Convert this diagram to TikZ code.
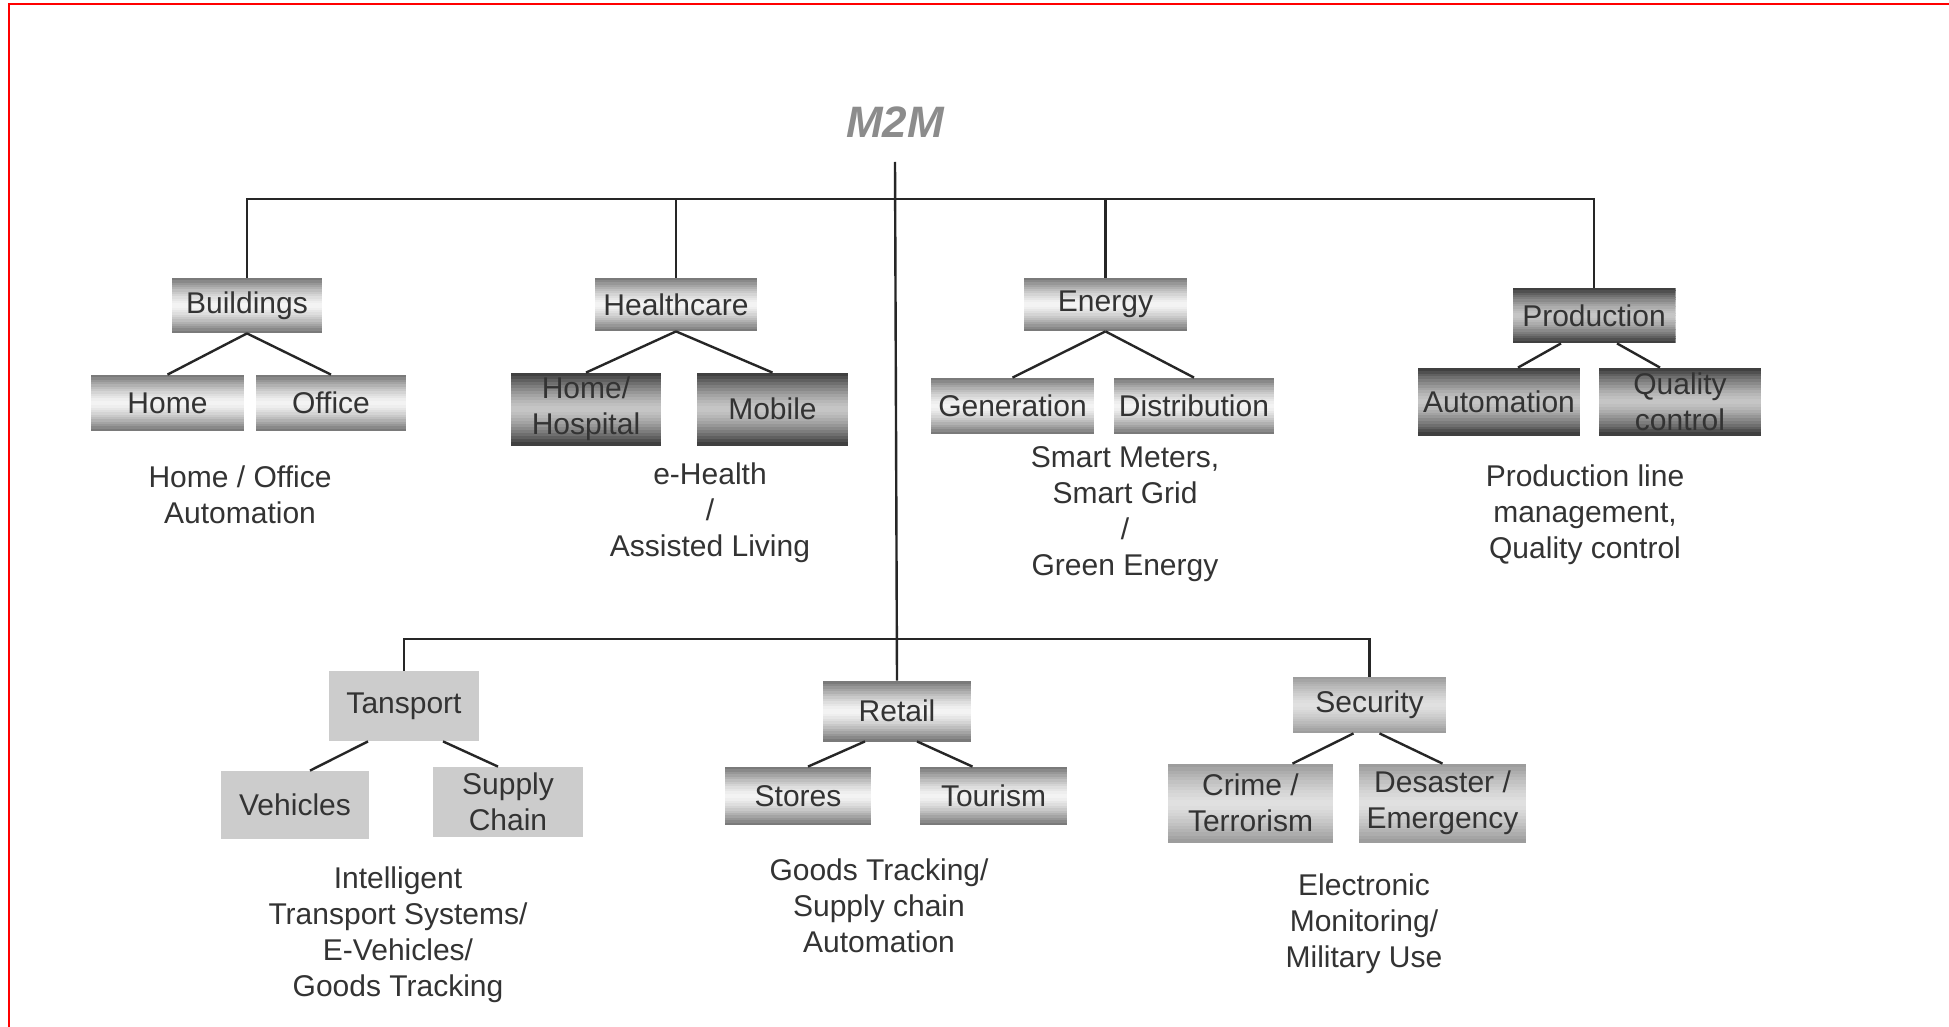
\documentclass[tikz,border=0pt]{standalone}
\usepackage{fontspec}
\setmainfont{Liberation Sans}
\usetikzlibrary{calc}
\colorlet{lightEdge}{black!55}
\colorlet{lightMid}{black!4}
\colorlet{darkEdge}{black!78}
\colorlet{darkMid}{black!22}
\colorlet{softEdge}{black!40}
\colorlet{softMid}{black!12}
\begin{document}
\begin{tikzpicture}[x=0.5pt,y=-0.5pt,
  box/.style={inner sep=1pt, align=center, text=black!80,
    font=\fontsize{15}{18}\selectfont},
  sz/.style 2 args={minimum width=#1, minimum height=#2},
  % banded fill: dark edges at top and bottom, light band in the middle
  metal/.style 2 args={box, path picture={
    \foreach \k in {0,...,23}{
      \pgfmathsetmacro\t{100*(abs(\k+0.5-12)/12)^1.4}
      \fill[#1!\t!#2]
        ($(path picture bounding box.north west)!{\k/24}!(path picture bounding box.south west)$)
        rectangle
        ($(path picture bounding box.north east)!{(\k+1.2)/24}!(path picture bounding box.south east)$);
    }}},
  lightmetal/.style={metal={lightEdge}{lightMid}},
  darkmetal/.style={metal={darkEdge}{darkMid}},
  softmetal/.style={metal={softEdge}{softMid}},
  flatbox/.style={box, fill=black!20},
  caption/.style={align=center, inner sep=0pt, text=black!80,
    font=\fontsize{15}{18}\selectfont},
  link/.style={line width=1.2pt, draw=black!85},
]
\useasboundingbox (0,0) rectangle (1949,1027);
\fill[white] (0,0) rectangle (1949,1027);

% page frame
\draw[red, line width=1pt] (9,1027) -- (9,4) -- (1949,4);

% root
\node[font=\bfseries\itshape\fontsize{22}{26}\selectfont, text=black!45] (m2m) at (895,122) {M2M};
\coordinate (root) at (895,162);
\coordinate (topbus) at (895,199);
\coordinate (lowbus) at (895,639);

% upper row
\node[lightmetal, sz={75pt}{27.5pt}] (bld) at (247,305.5) {Buildings};
\node[lightmetal, sz={76.5pt}{28pt}] (home) at (167.5,403) {Home};
\node[lightmetal, sz={75pt}{28pt}] (office) at (331,403) {Office};
\node[caption] (capbld) at (240,495) {Home / Office\\Automation};

\node[lightmetal, sz={81pt}{26.5pt}] (hc) at (676,304.5) {Healthcare};
\node[darkmetal, sz={75pt}{36pt}] (hosp) at (586,409) {Home/\\Hospital};
\node[darkmetal, sz={75.5pt}{36pt}] (mobile) at (772.5,409) {Mobile};
\node[caption] (caphc) at (710,513) {e-Health\\/\\Assisted Living};

\node[lightmetal, sz={81.5pt}{26.5pt}] (energy) at (1105.5,304.5) {Energy};
\node[lightmetal, sz={81.5pt}{28pt}] (gen) at (1012.5,406) {Generation};
\node[lightmetal, sz={80pt}{28pt}] (dist) at (1194,406) {Distribution};
\node[caption] (capen) at (1125,514) {Smart Meters,\\Smart Grid\\/\\Green Energy};

\node[darkmetal, sz={81.5pt}{27.5pt}] (prod) at (1594,315.5) {Production};
\node[darkmetal, sz={81pt}{33.5pt}] (auto) at (1499,401.5) {Automation};
\node[darkmetal, sz={81pt}{33.5pt}] (qual) at (1680,401.5) {Quality\\control};
\node[caption] (capprod) at (1585,515) {Production line\\management,\\Quality control};

% lower row
\node[flatbox, sz={75pt}{35pt}] (trans) at (404,706) {Tansport};
\node[flatbox, sz={74pt}{34pt}] (veh) at (295,805) {Vehicles};
\node[flatbox, sz={75pt}{35pt}] (supply) at (508,802) {Supply\\Chain};
\node[caption] (captr) at (398,935) {Intelligent\\Transport Systems/\\E-Vehicles/\\Goods Tracking};

\node[lightmetal, sz={74pt}{30pt}] (retail) at (897,711) {Retail};
\node[lightmetal, sz={73pt}{29pt}] (stores) at (798,796) {Stores};
\node[lightmetal, sz={73.5pt}{29pt}] (tour) at (993.5,796) {Tourism};
\node[caption] (capret) at (879,906) {Goods Tracking/\\Supply chain\\Automation};

\node[softmetal, sz={76.5pt}{28pt}] (sec) at (1369.5,705) {Security};
\node[softmetal, sz={82.5pt}{39pt}] (crime) at (1250.5,803) {Crime /\\Terrorism};
\node[softmetal, sz={83.5pt}{39pt}] (desaster) at (1442.5,803) {Desaster /\\Emergency};
\node[caption] (capsec) at (1364,924) {Electronic\\Monitoring/\\Military Use};

% trunk and buses
\draw[link] (root) -- (retail.north);
\draw[link] (bld.north) -- (bld.north |- topbus) -- (prod.north |- topbus) -- (prod.north);
\draw[link] (hc.north) -- (hc.north |- topbus);
\draw[link] (energy.north) -- (energy.north |- topbus);
\draw[link] (trans.north) -- (trans.north |- lowbus) -- (sec.north |- lowbus) -- (sec.north);

% branches to the sub-areas
\draw[link] (bld.south) -- (home.north);
\draw[link] (bld.south) -- (office.north);
\draw[link] (hc.south) -- (hosp.north);
\draw[link] (hc.south) -- (mobile.north);
\draw[link] (energy.south) -- (gen.north);
\draw[link] (energy.south) -- (dist.north);
\draw[link] ($(prod.south)+(-33,0)$) -- ($(auto.north)+(19,0)$);
\draw[link] ($(prod.south)+(23,0)$) -- ($(qual.north)+(-20,0)$);
\draw[link] ($(trans.south)+(-36,0)$) -- ($(veh.north)+(15,0)$);
\draw[link] ($(trans.south)+(39,0)$) -- ($(supply.north)+(-10,0)$);
\draw[link] ($(retail.south)+(-32,0)$) -- ($(stores.north)+(10,0)$);
\draw[link] ($(retail.south)+(20,0)$) -- ($(tour.north)+(-21,0)$);
\draw[link] ($(sec.south)+(-16,0)$) -- ($(crime.north)+(42,0)$);
\draw[link] ($(sec.south)+(10,0)$) -- ($(desaster.north)+(0,0)$);
\end{tikzpicture}
\end{document}
